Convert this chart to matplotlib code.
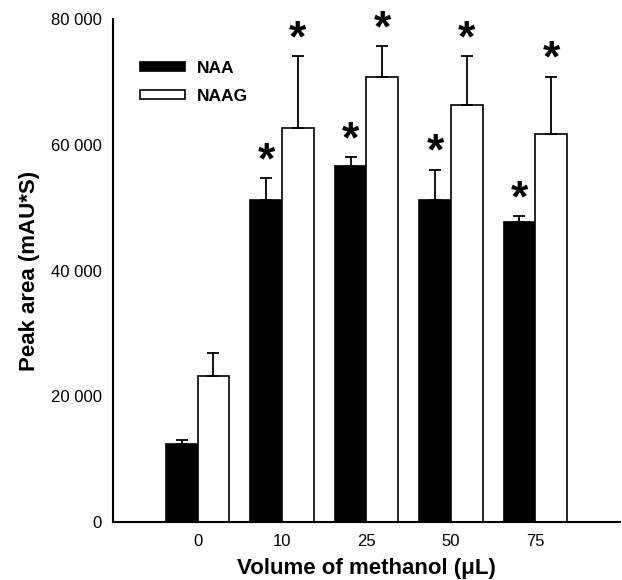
import matplotlib
matplotlib.use("Agg")
import matplotlib.pyplot as plt
import numpy as np

plt.rcParams["font.family"] = ["Liberation Sans", "DejaVu Sans"]

volumes = ["0", "10", "25", "50", "75"]
naa_mean = [12400, 51200, 56700, 51300, 47700]
naa_err = [700, 3600, 1400, 4800, 1000]
naag_mean = [23250, 62700, 70900, 66450, 61800]
naag_err = [3650, 11500, 4900, 7750, 9100]
naa_sig = [False, True, True, True, True]
naag_sig = [False, True, True, True, True]
y_ticks = [0, 20000, 40000, 60000, 80000]

fig = plt.figure(figsize=(6.22, 5.8), dpi=100)
ax = fig.add_axes([0.1817, 0.1, 0.815, 0.8664])

x = np.arange(len(volumes))
w = 0.378
err_kw = dict(ecolor="black", elinewidth=1.3, capsize=4.3, capthick=1.3)

ax.bar(x - w / 2, naa_mean, w, color="black", edgecolor="black", linewidth=1.2,
       yerr=[np.zeros(len(x)), naa_err], error_kw=err_kw, label="NAA", zorder=2)
ax.bar(x + w / 2, naag_mean, w, color="white", edgecolor="black", linewidth=1.2,
       yerr=[np.zeros(len(x)), naag_err], error_kw=err_kw, label="NAAG", zorder=2)

# significance stars above the error caps
for xs, means, errs, sig in [(x - w / 2, naa_mean, naa_err, naa_sig),
                             (x + w / 2, naag_mean, naag_err, naag_sig)]:
    for xi, m, e, s in zip(xs, means, errs, sig):
        if s:
            ax.annotate("*", (xi, m + e), xytext=(0, -3), textcoords="offset points",
                        ha="center", va="bottom", fontsize=32, fontweight="bold")

ax.set_xlim(-1, 5)
ax.set_ylim(0, 80000)
ax.set_xticks(x)
ax.set_xticklabels(volumes)
ax.set_yticks(y_ticks)
ax.set_yticklabels([f"{v:,}".replace(",", " ") for v in y_ticks])
ax.tick_params(length=0, labelsize=12)
ax.tick_params(axis="y", pad=8)
ax.tick_params(axis="x", pad=9)

for side in ["top", "right"]:
    ax.spines[side].set_visible(False)
for side in ["left", "bottom"]:
    ax.spines[side].set_linewidth(1.5)

ax.set_xlabel("Volume of methanol (μL)", fontsize=16, fontweight="bold", labelpad=6)
ax.set_ylabel("Peak area (mAU*S)", fontsize=16, fontweight="bold", labelpad=8)

ax.legend(loc="upper left", bbox_to_anchor=(0.053, 0.918), frameon=False,
          prop={"weight": "bold", "size": 12.5}, handlelength=2.6, handleheight=0.45,
          labelspacing=0.75, borderpad=0, borderaxespad=0, handletextpad=0.7)

fig.savefig("out.png", dpi=100)
